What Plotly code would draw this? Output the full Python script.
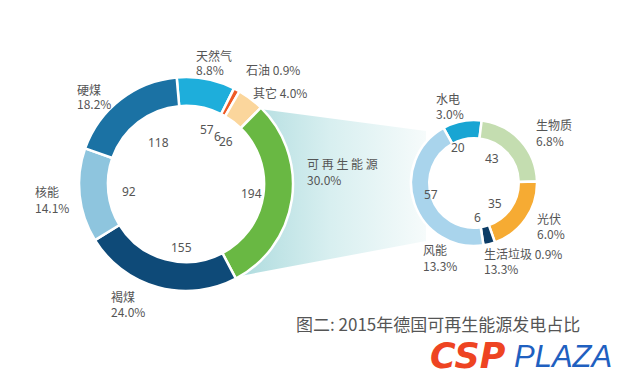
import math
import plotly.graph_objects as go

# ---------------- data ----------------
main_labels = ["天然气", "石油", "其它", "可再生能源", "褐煤", "核能", "硬煤"]
main_values = [57, 6, 26, 194, 155, 92, 118]          # TWh
main_pct = ["8.8%", "0.9%", "4.0%", "30.0%", "24.0%", "14.1%", "18.2%"]
main_colors = ["#1eaedb", "#ee5a24", "#fbd69c", "#69b843", "#0e4a78", "#8ec5de", "#1b72a4"]

renew_labels = ["水电", "生物质", "光伏", "生活垃圾", "风能"]
renew_pct = [3.0, 6.8, 6.0, 0.9, 13.3]                 # share of total generation (%)
renew_values = [20, 43, 35, 6, 57]                     # TWh
renew_colors = ["#18a5d3", "#c4ddb0", "#f6ab33", "#0c3c66", "#a9d4ec"]

title_text = "图二: 2015年德国可再生能源发电占比"

W, H = 620, 377
FONT = "Noto Sans CJK SC, Noto Sans, sans-serif"
TXT = "#555555"


def px(x):
    return x / W


def py(y):
    return 1 - y / H


# geometry (pixels)
MC, MR, MROT = (178, 176), 107, -5
SC, SR, SROT = (466, 175), 63, -29

fig = go.Figure()

# connecting fan (decoration): follows the outer arc of the renewable slice
tot = sum(main_values)
ri = main_labels.index("可再生能源")
a1 = MROT + sum(main_values[:ri]) / tot * 360
a2 = MROT + sum(main_values[:ri + 1]) / tot * 360
arc = [a2 - (a2 - a1) * k / 30 for k in range(31)]
fx = [MC[0] + (MR - 2) * math.sin(math.radians(a1)), 418, 418]
fy = [MC[1] - (MR - 2) * math.cos(math.radians(a1)), 123, 233]
for a in arc:
    fx.append(MC[0] + (MR - 2) * math.sin(math.radians(a)))
    fy.append(MC[1] - (MR - 2) * math.cos(math.radians(a)))
fig.add_trace(go.Scatter(
    x=fx, y=fy, mode="lines", line=dict(width=0), fill="toself",
    fillgradient=dict(type="horizontal",
                      colorscale=[[0, "#acdadd"], [0.5, "#d8eff0"], [1, "#f6fbfb"]]),
    hoverinfo="skip", showlegend=False))

fig.add_trace(go.Pie(
    labels=main_labels, values=main_values, sort=False, direction="clockwise",
    rotation=MROT, hole=0.73, textinfo="none", hoverinfo="label+value",
    marker=dict(colors=main_colors, line=dict(color="white", width=2.5)),
    domain=dict(x=[px(MC[0] - MR), px(MC[0] + MR)], y=[py(MC[1] + MR), py(MC[1] - MR)]),
    showlegend=False))

fig.add_trace(go.Pie(
    labels=renew_labels, values=renew_pct, sort=False, direction="clockwise",
    rotation=SROT, hole=0.71, textinfo="none", hoverinfo="label+value",
    marker=dict(colors=renew_colors, line=dict(color="white", width=2.5)),
    domain=dict(x=[px(SC[0] - SR), px(SC[0] + SR)], y=[py(SC[1] + SR), py(SC[1] - SR)]),
    showlegend=False))

annotations = []


def ring_numbers(vals, texts, rot, c, r):
    tot = sum(vals)
    cum = 0
    for v, t in zip(vals, texts):
        a = math.radians(rot + (cum + v / 2) / tot * 360)
        cum += v
        annotations.append(dict(
            x=px(c[0] + r * math.sin(a)), y=py(c[1] - r * math.cos(a)),
            xref="paper", yref="paper", text=str(t), showarrow=False,
            font=dict(size=12, color=TXT, family="Noto Sans, sans-serif")))


ring_numbers(main_values, main_values, MROT, MC, 66)
ring_numbers(renew_pct, renew_values, SROT, SC, 36)

# outside labels: (x left, y centre of first line, lines)
outer = [
    (186, 47, ["天然气", "8.8%"]),
    (236, 62, ["石油 0.9%"]),
    (243, 84, ["其它 4.0%"]),
    (67, 81, ["硬煤", "18.2%"]),
    (25, 184, ["核能", "14.1%"]),
    (101, 288, ["褐煤", "24.0%"]),
    (297, 156, ["可 再 生 能 源", "30.0%"]),
    (426, 90, ["水电", "3.0%"]),
    (526, 117, ["生物质", "6.8%"]),
    (527, 210, ["光伏", "6.0%"]),
    (413, 242, ["风能", "13.3%"]),
    (474, 245, ["生活垃圾 0.9%", "13.3%"]),
]
for x, y, lines in outer:
    for k, t in enumerate(lines):
        annotations.append(dict(
            x=px(x), y=py(y + 15 * k), xref="paper", yref="paper",
            xanchor="left", yanchor="middle", text=t, showarrow=False,
            font=dict(size=12, color=TXT, family=FONT)))

annotations.append(dict(
    x=px(286), y=py(315), xref="paper", yref="paper", xanchor="left", yanchor="middle",
    text=title_text, showarrow=False, font=dict(size=17, color="#555555", family=FONT)))

annotations.append(dict(
    x=px(420), y=py(348), xref="paper", yref="paper", xanchor="left", yanchor="middle",
    text="<b><i>CSP</i></b>", showarrow=False,
    font=dict(size=35, color="#ee4422", family="DejaVu Sans")))
annotations.append(dict(
    x=px(504), y=py(348), xref="paper", yref="paper", xanchor="left", yanchor="middle",
    text="<i>PLAZA</i>", showarrow=False,
    font=dict(size=31, color="#1f60c0", family="Liberation Sans")))

fig.update_layout(
    width=W, height=H, margin=dict(l=0, r=0, t=0, b=0),
    paper_bgcolor="white", plot_bgcolor="rgba(0,0,0,0)",
    xaxis=dict(range=[0, W], visible=False, domain=[0, 1], fixedrange=True),
    yaxis=dict(range=[H, 0], visible=False, domain=[0, 1], fixedrange=True),
    annotations=annotations, showlegend=False)

fig.write_html("out.html")
